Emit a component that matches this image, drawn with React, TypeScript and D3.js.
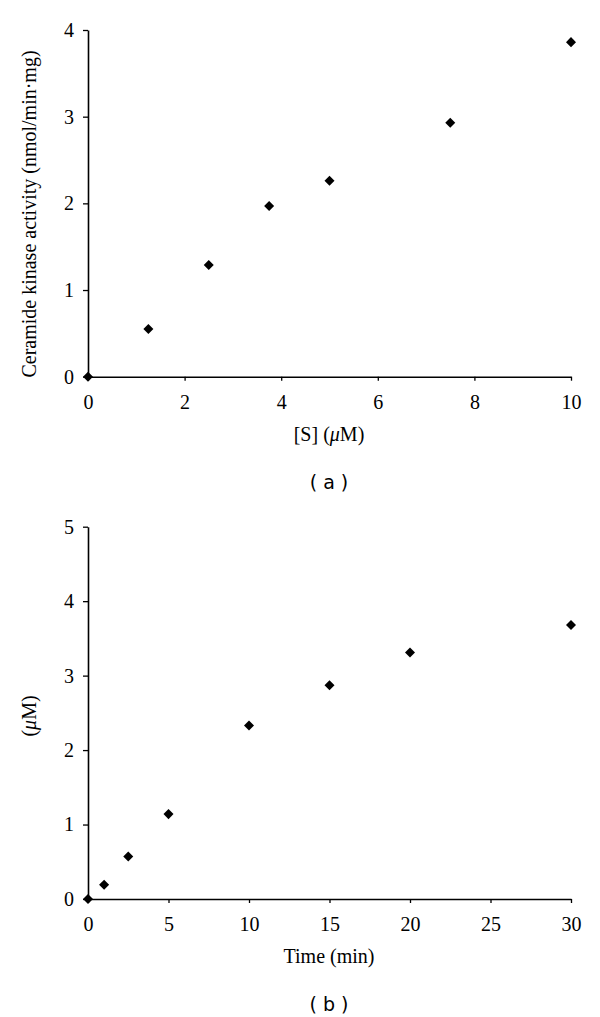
import React, { useRef, useEffect } from "react";
import * as d3 from "d3";

// panel (a): substrate concentration vs activity
const concS = [0, 1.25, 2.5, 3.75, 5, 7.5, 10];
const activity = [0, 0.55, 1.29, 1.97, 2.26, 2.93, 3.86];
const ticksA_x = [0, 2, 4, 6, 8, 10];
const ticksA_y = [0, 1, 2, 3, 4];

// panel (b): time course
const timeMin = [0, 1, 2.5, 5, 10, 15, 20, 30];
const productUM = [0, 0.19, 0.57, 1.14, 2.33, 2.87, 3.31, 3.68];
const ticksB_x = [0, 5, 10, 15, 20, 25, 30];
const ticksB_y = [0, 1, 2, 3, 4, 5];

const SERIF = "'Liberation Serif', 'Times New Roman', serif";
const SANS = "'DejaVu Sans', Verdana, sans-serif";

export default function App() {
  const ref = useRef<SVGSVGElement>(null);

  useEffect(() => {
    if (!ref.current) return;
    const svg = d3.select(ref.current);
    svg.selectAll("*").remove();

    const diamond = d3.symbol().type(d3.symbolDiamond2).size(64);

    function panel(opts: {
      xs: number[];
      ys: number[];
      xDomain: [number, number];
      yDomain: [number, number];
      xTicks: number[];
      yTicks: number[];
      top: number;
      bottom: number;
      xLabel: (t: d3.Selection<SVGTextElement, unknown, null, undefined>) => void;
      yLabel: (t: d3.Selection<SVGTextElement, unknown, null, undefined>) => void;
      yLabelY: number;
      tag: string;
    }) {
      const x = d3.scaleLinear().domain(opts.xDomain).range([88, 571]);
      const y = d3.scaleLinear().domain(opts.yDomain).range([opts.bottom, opts.top]);
      const g = svg.append("g");

      const xa = g
        .append("g")
        .attr("transform", `translate(0,${opts.bottom})`)
        .call(
          d3.axisBottom(x).tickValues(opts.xTicks).tickFormat(d3.format("d"))
            .tickSize(4).tickSizeOuter(0).tickPadding(14)
        );
      const ya = g
        .append("g")
        .attr("transform", `translate(88,0)`)
        .call(
          d3.axisLeft(y).tickValues(opts.yTicks).tickFormat(d3.format("d"))
            .tickSize(5).tickSizeOuter(0).tickPadding(9)
        );
      [xa, ya].forEach((a) => {
        a.attr("font-family", SERIF).attr("font-size", 20);
        a.select(".domain").attr("stroke", "#000").attr("stroke-width", 1.6);
        a.selectAll(".tick line").attr("stroke", "#000").attr("stroke-width", 1.3);
        a.selectAll(".tick text").attr("fill", "#000");
      });

      g.append("g")
        .selectAll("path")
        .data(opts.xs.map((v, i) => [v, opts.ys[i]]))
        .join("path")
        .attr("d", diamond)
        .attr("transform", (d) => `translate(${x(d[0])},${y(d[1])})`)
        .attr("fill", "#000");

      const xl = g
        .append("text")
        .attr("x", 329)
        .attr("y", opts.bottom + 64)
        .attr("text-anchor", "middle")
        .attr("font-family", SERIF)
        .attr("font-size", 20);
      opts.xLabel(xl);

      const yl = g
        .append("text")
        .attr("transform", `translate(36,${opts.yLabelY}) rotate(-90)`)
        .attr("text-anchor", "middle")
        .attr("font-family", SERIF)
        .attr("font-size", 20);
      opts.yLabel(yl);

      g.append("text")
        .attr("x", 329)
        .attr("y", opts.bottom + 112)
        .attr("text-anchor", "middle")
        .attr("font-family", SANS)
        .attr("font-size", 19)
        .text(opts.tag);
    }

    panel({
      xs: concS,
      ys: activity,
      xDomain: [0, 10],
      yDomain: [0, 4],
      xTicks: ticksA_x,
      yTicks: ticksA_y,
      top: 30,
      bottom: 376.7,
      xLabel: (t) => {
        t.append("tspan").text("[S] (");
        t.append("tspan").attr("font-style", "italic").text("μ");
        t.append("tspan").text("M)");
      },
      yLabel: (t) => t.text("Ceramide kinase activity (nmol/min·mg)"),
      yLabelY: 214,
      tag: "( a )",
    });

    panel({
      xs: timeMin,
      ys: productUM,
      xDomain: [0, 30],
      yDomain: [0, 5],
      xTicks: ticksB_x,
      yTicks: ticksB_y,
      top: 526.7,
      bottom: 899,
      xLabel: (t) => t.text("Time (min)"),
      yLabel: (t) => {
        t.append("tspan").text("(");
        t.append("tspan").attr("font-style", "italic").text("μ");
        t.append("tspan").text("M)");
      },
      yLabelY: 716,
      tag: "( b )",
    });
  }, []);

  return (
    <svg
      ref={ref}
      width={600}
      height={1017}
      style={{ position: "absolute", left: 0, top: 0, background: "#fff" }}
    />
  );
}
